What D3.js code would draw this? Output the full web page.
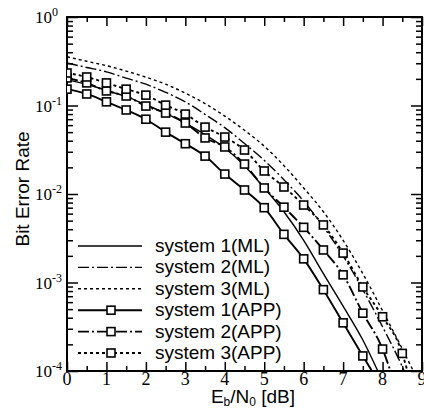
<!DOCTYPE html>
<html>
<head>
<meta charset="utf-8">
<script src="https://cdn.jsdelivr.net/npm/d3@7"></script>
<style>
  body { margin: 0; background: #fff; }
  svg { display: block; }
  .sans { font-family: "Liberation Sans", Arial, Helvetica, sans-serif; }
  .serif { font-family: "Liberation Serif", "Times New Roman", serif; }
</style>
</head>
<body>
<div id="chart"></div>
<script>
// Eb/N0 grid (dB) where the simulated points sit
const ebn0 = [0, 0.5, 1, 1.5, 2, 2.5, 3, 3.5, 4, 4.5, 5, 5.5, 6, 6.5, 7, 7.5, 8, 8.5];

// BER
const sys1ML = [0.195, 0.174, 0.148, 0.126, 0.102, 0.0813, 0.0631, 0.0468, 0.0331, 0.0209,
  0.0117, 0.0063, 0.0030, 0.00126, 0.00054, 0.000224];
const sys2ML = [0.302, 0.269, 0.240, 0.204, 0.174, 0.141, 0.110, 0.0794, 0.0562, 0.0372,
  0.0240, 0.0145, 0.0083, 0.00427, 0.0020, 0.00083, 0.000316, 0.000112];
const sys3ML = [0.355, 0.316, 0.282, 0.245, 0.209, 0.174, 0.138, 0.105, 0.0759, 0.0525,
  0.0347, 0.0209, 0.0117, 0.0063, 0.0030, 0.00126, 0.00048, 0.000178];
const sys1APP = [0.153, 0.135, 0.110, 0.089, 0.070, 0.050, 0.037, 0.0268, 0.0168, 0.0111,
  0.0070, 0.0035, 0.00185, 0.00083, 0.00035, 0.000148];
const sys2APP = [0.205, 0.180, 0.146, 0.128, 0.0986, 0.0822, 0.0634, 0.043, 0.034, 0.0218,
  0.0117, 0.0071, 0.0042, 0.00233, 0.00122, 0.00045, 0.000177];
const sys3APP = [0.233, 0.210, 0.180, 0.153, 0.131, 0.101, 0.080, 0.057, 0.044, 0.0314,
  0.0182, 0.0120, 0.0075, 0.00447, 0.00215, 0.00089, 0.00041, 0.000158];

// where each curve leaves the bottom of the plot (BER = 1e-4)
const endEbn0 = [7.88, 8.55, 8.78, 7.73, 8.2, 8.63];

const seriesNames = ['system 1(ML)', 'system 2(ML)', 'system 3(ML)',
  'system 1(APP)', 'system 2(APP)', 'system 3(APP)'];
const seriesValues = [sys1ML, sys2ML, sys3ML, sys1APP, sys2APP, sys3APP];

const xTicks = [0, 1, 2, 3, 4, 5, 6, 7, 8, 9];
const yExponents = [0, -1, -2, -3, -4];

const width = 424, height = 410;
const plotLeft = 67, plotRight = 422, plotTop = 17, plotBottom = 371;

const dashes = ['none', '11,3,2,3', '3,3'];

const x = d3.scaleLinear().domain([0, 9]).range([plotLeft, plotRight]);
const y = d3.scaleLog().domain([1e-4, 1]).range([plotBottom, plotTop]);

const svg = d3.select('#chart')
  .append('svg')
    .attr('width', width)
    .attr('height', height);

svg.append('rect').attr('width', width).attr('height', height).attr('fill', '#fff');

svg.append('clipPath').attr('id', 'plot')
  .append('rect')
    .attr('x', plotLeft).attr('y', plotTop)
    .attr('width', plotRight - plotLeft).attr('height', plotBottom - plotTop);

const series = seriesValues.map((vals, i) => {
  const pts = vals.map((v, j) => ({x: ebn0[j], y: v}));
  return {
    name: seriesNames[i],
    app: i >= 3,
    dash: dashes[i % 3],
    pts,
    line: pts.concat([{x: endEbn0[i], y: 1e-4}]),
  };
});

// ticks
const minorX = d3.range(0.5, 9, 1);
const minorY = [];
yExponents.slice(1).forEach(e => {
  for (let k = 2; k <= 9; k++) minorY.push(k * Math.pow(10, e));
});
const majorY = yExponents.map(e => Math.pow(10, e));

function tickAxis(axis, scale, values, size, transform) {
  svg.append('g')
    .attr('transform', transform)
    .call(axis(scale).tickValues(values).tickSize(size).tickFormat(''))
    .call(g => g.select('.domain').remove())
    .call(g => g.selectAll('line').attr('stroke', '#000').attr('stroke-width', 1.5));
}

tickAxis(d3.axisBottom, x, xTicks, -9, `translate(0,${plotBottom})`);
tickAxis(d3.axisBottom, x, minorX, -5, `translate(0,${plotBottom})`);
tickAxis(d3.axisTop, x, xTicks, -9, `translate(0,${plotTop})`);
tickAxis(d3.axisTop, x, minorX, -5, `translate(0,${plotTop})`);
tickAxis(d3.axisLeft, y, majorY, -11, `translate(${plotLeft},0)`);
tickAxis(d3.axisLeft, y, minorY, -6, `translate(${plotLeft},0)`);
tickAxis(d3.axisRight, y, majorY, -11, `translate(${plotRight},0)`);
tickAxis(d3.axisRight, y, minorY, -6, `translate(${plotRight},0)`);

// frame
svg.append('rect')
  .attr('x', plotLeft).attr('y', plotTop)
  .attr('width', plotRight - plotLeft).attr('height', plotBottom - plotTop)
  .attr('fill', 'none')
  .attr('stroke', '#000')
  .attr('stroke-width', 2);

// tick labels
svg.append('g')
  .selectAll('text')
  .data(xTicks)
  .join('text')
    .attr('class', 'serif')
    .attr('x', d => x(d))
    .attr('y', 385)
    .attr('text-anchor', 'middle')
    .attr('font-size', 18)
    .text(d => d);

const yLab = svg.append('g')
  .selectAll('text')
  .data(yExponents)
  .join('text')
    .attr('class', 'serif')
    .attr('x', 35)
    .attr('y', d => y(Math.pow(10, d)) + 6)
    .attr('font-size', 17);
yLab.append('tspan').text('10');
yLab.append('tspan')
  .attr('dy', -7)
  .attr('font-size', 12)
  .text(d => d === 0 ? '0' : '-' + Math.abs(d));

// axis titles
svg.append('text')
  .attr('class', 'sans')
  .attr('transform', `translate(29,${(plotTop + plotBottom) / 2 - 5}) rotate(-90)`)
  .attr('text-anchor', 'middle')
  .attr('font-size', 19)
  .text('Bit Error Rate');

const xt = svg.append('text')
  .attr('class', 'sans')
  .attr('x', 253)
  .attr('y', 403)
  .attr('text-anchor', 'middle')
  .attr('font-size', 19);
xt.append('tspan').text('E');
xt.append('tspan').attr('dy', 3).attr('font-size', 12).text('b');
xt.append('tspan').attr('dy', -3).text('/N');
xt.append('tspan').attr('dy', 3).attr('font-size', 12).text('0');
xt.append('tspan').attr('dy', -3).text(' [dB]');

// curves
const line = d3.line()
  .x(d => x(d.x))
  .y(d => y(d.y))
  .curve(d3.curveMonotoneX);

const plot = svg.append('g').attr('clip-path', 'url(#plot)');

plot.selectAll('path.curve')
  .data(series)
  .join('path')
    .attr('class', 'curve')
    .attr('d', d => line(d.line))
    .attr('fill', 'none')
    .attr('stroke', '#000')
    .attr('stroke-width', d => d.app ? 1.9 : 1.4)
    .attr('stroke-dasharray', d => d.dash);

series.filter(s => s.app).forEach(s => {
  plot.append('g')
    .selectAll('rect')
    .data(s.pts)
    .join('rect')
      .attr('x', d => x(d.x) - 4)
      .attr('y', d => y(d.y) - 4)
      .attr('width', 8)
      .attr('height', 8)
      .attr('fill', '#fff')
      .attr('stroke', '#000')
      .attr('stroke-width', 1.6);
});

// legend
const legendY = d3.scaleLinear().domain([0, 5]).range([246, 353]);
const legend = svg.append('g')
  .selectAll('g')
  .data(series)
  .join('g')
    .attr('transform', (d, i) => `translate(0,${legendY(i)})`);

legend.append('line')
  .attr('x1', 78).attr('x2', 142)
  .attr('stroke', '#000')
  .attr('stroke-width', d => d.app ? 1.9 : 1.4)
  .attr('stroke-dasharray', d => d.dash);

legend.filter(d => d.app)
  .append('rect')
    .attr('x', 107).attr('y', -4)
    .attr('width', 8).attr('height', 8)
    .attr('fill', '#fff')
    .attr('stroke', '#000')
    .attr('stroke-width', 1.6);

legend.append('text')
  .attr('class', 'sans')
  .attr('x', 155)
  .attr('y', 6)
  .attr('font-size', 19)
  .text(d => d.name);
</script>
</body>
</html>
